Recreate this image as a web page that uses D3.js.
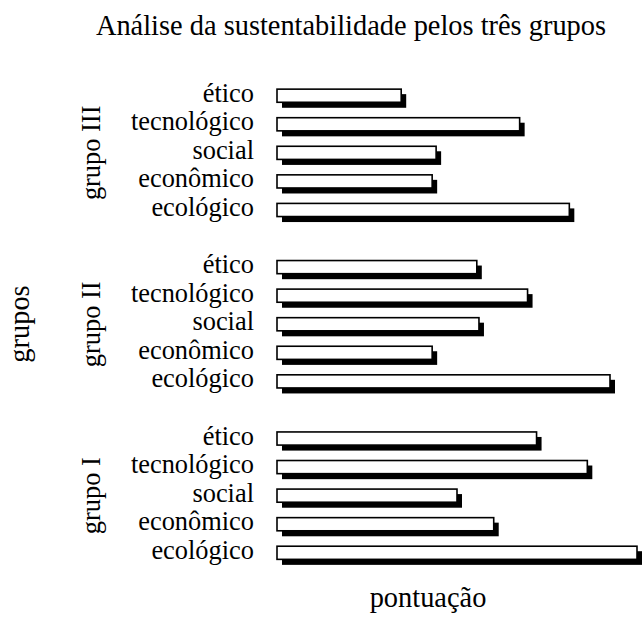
<!DOCTYPE html>
<html>
<head>
<meta charset="utf-8">
<script src="https://cdn.jsdelivr.net/npm/d3@7"></script>
<style>
    body { margin: 0; background: #fff; }
    text { font-family: "Liberation Serif", "Times New Roman", serif; fill: #000; }
</style>
</head>
<body>
<div id="chart"></div>
<script>
// groups, from top to bottom as drawn
var groups = ['grupo III', 'grupo II', 'grupo I'];
// categories inside every group, from top to bottom
var categories = ['ético', 'tecnológico', 'social', 'econômico', 'ecológico'];
// pontuação per group, same order as categories
var grupoIII = [34.5, 67.4, 44.2, 43.1, 81.2];
var grupoII = [55.5, 69.6, 56.1, 43.1, 92.5];
var grupoI = [72.1, 86.2, 50.0, 60.2, 100];
var scoreDomain = [0, 100];

(function() {
    var width = 642,
        height = 617;

    var seriesByGroup = {
        'grupo III': grupoIII,
        'grupo II': grupoII,
        'grupo I': grupoI
    };

    // one row per bar plus an empty row between groups
    var rows = [];
    groups.forEach(function (g, gi) {
        categories.forEach(function (c, ci) {
            rows.push({ key: g + '|' + c, group: g, category: c, value: seriesByGroup[g][ci] });
        });
        if (gi < groups.length - 1) {
            rows.push({ key: 'gap' + gi, gap: true });
        }
    });

    var svg = d3.select('#chart').append('svg')
        .attr('width', width)
        .attr('height', height);

    var x = d3.scaleLinear()
        .domain(scoreDomain)
        .range([277, 637]);

    var y = d3.scaleBand()
        .domain(rows.map(function (d) { return d.key; }))
        .range([82, 566.5])
        .paddingInner(0.54)
        .paddingOuter(0.25);

    var bars = rows.filter(function (d) { return !d.gap; });
    var shadow = 5;

    // shadows first, then the white bars on top
    svg.append('g').selectAll('rect')
        .data(bars)
        .enter().append('rect')
        .attr('x', x(0) + shadow)
        .attr('y', function (d) { return y(d.key) + shadow; })
        .attr('width', function (d) { return x(d.value) - x(0); })
        .attr('height', y.bandwidth() + 0.5)
        .attr('fill', '#000');

    svg.append('g').selectAll('rect')
        .data(bars)
        .enter().append('rect')
        .attr('x', x(0))
        .attr('y', function (d) { return y(d.key); })
        .attr('width', function (d) { return x(d.value) - x(0); })
        .attr('height', y.bandwidth())
        .attr('fill', '#fff')
        .attr('stroke', '#000')
        .attr('stroke-width', 1.6);

    // category labels
    svg.append('g').selectAll('text')
        .data(bars)
        .enter().append('text')
        .attr('x', 254)
        .attr('y', function (d) { return y(d.key) + y.bandwidth() / 2 + 6; })
        .attr('text-anchor', 'end')
        .style('font-size', '26.4px')
        .text(function (d) { return d.category; });

    // group labels, rotated, centred on their five bars
    groups.forEach(function (g) {
        var first = y(g + '|' + categories[0]),
            last = y(g + '|' + categories[categories.length - 1]) + y.bandwidth(),
            mid = (first + last) / 2;
        svg.append('text')
            .attr('transform', 'translate(100,' + mid + ') rotate(-90)')
            .attr('text-anchor', 'middle')
            .style('font-size', '26.4px')
            .text(g);
    });

    // titles
    svg.append('text')
        .attr('x', 351)
        .attr('y', 35)
        .attr('text-anchor', 'middle')
        .style('font-size', '28.4px')
        .text('Análise da sustentabilidade pelos três grupos');

    svg.append('text')
        .attr('x', 428)
        .attr('y', 607)
        .attr('text-anchor', 'middle')
        .style('font-size', '28.4px')
        .text('pontuação');

    svg.append('text')
        .attr('transform', 'translate(29,324) rotate(-90)')
        .attr('text-anchor', 'middle')
        .style('font-size', '28.4px')
        .text('grupos');
}());
</script>
</body>
</html>
